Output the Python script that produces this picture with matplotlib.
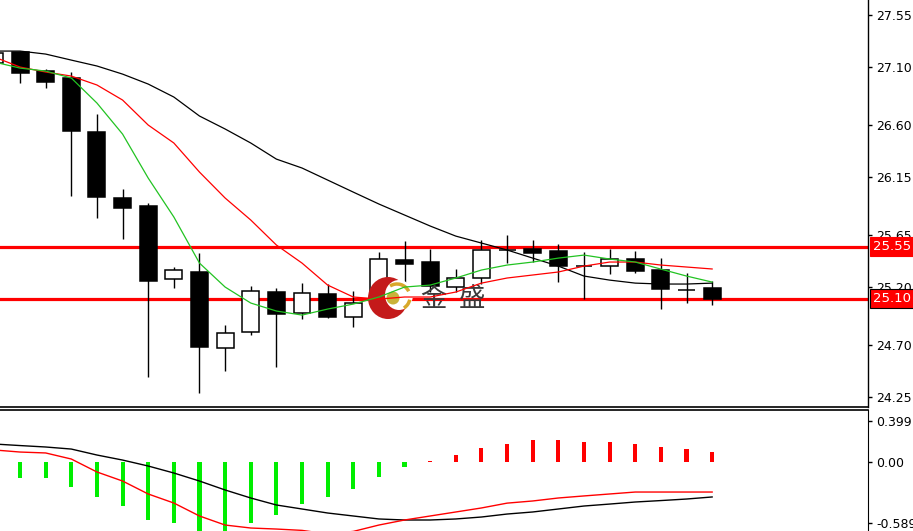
import numpy as np
import matplotlib
matplotlib.use("Agg")
import matplotlib.pyplot as plt
from matplotlib.patches import Rectangle, Ellipse, Arc

# Velas (OHLC)
opens = [27.135, 27.23, 27.066, 27.006, 26.54, 25.97, 25.90, 25.27, 25.33, 24.674,
         24.812, 25.158, 24.976, 25.14, 24.942, 25.149, 25.434, 25.417, 25.201, 25.279,
         25.521, 25.529, 25.512, 25.382, 25.382, 25.443, 25.348, 25.175, 25.192]
highs = [27.23, 27.239, 27.084, 27.058, 26.695, 26.047, 25.926, 25.374, 25.495, 24.873,
         25.21, 25.192, 25.236, 25.227, 25.166, 25.503, 25.598, 25.529, 25.357, 25.607,
         25.65, 25.607, 25.572, 25.503, 25.529, 25.512, 25.451, 25.322, 25.253]
lows = [27.12, 26.963, 26.92, 25.987, 25.797, 25.616, 24.424, 25.192, 24.286, 24.476,
        24.786, 24.51, 24.925, 24.93, 24.856, 25.089, 25.227, 25.158, 25.158, 25.227,
        25.408, 25.417, 25.244, 25.097, 25.313, 25.322, 25.011, 25.063, 25.045]
closes = [27.222, 27.049, 26.971, 26.548, 25.978, 25.883, 25.253, 25.348, 24.683, 24.804,
          25.166, 24.968, 25.149, 24.942, 25.063, 25.443, 25.40, 25.21, 25.279, 25.521,
          25.521, 25.494, 25.382, 25.382, 25.443, 25.339, 25.184, 25.175, 25.097]

# Medias moviles
ma_negra = [27.239, 27.239, 27.213, 27.161, 27.11, 27.04, 26.954, 26.842, 26.678, 26.566,
            26.445, 26.306, 26.229, 26.125, 26.021, 25.918, 25.823, 25.728, 25.641, 25.581,
            25.521, 25.451, 25.382, 25.296, 25.261, 25.235, 25.227, 25.227, 25.235]
ma_roja = [27.187, 27.101, 27.058, 27.023, 26.946, 26.816, 26.60, 26.445, 26.194, 25.97,
           25.78, 25.564, 25.408, 25.218, 25.115, 25.097, 25.115, 25.115, 25.158, 25.235,
           25.279, 25.305, 25.331, 25.382, 25.417, 25.417, 25.391, 25.374, 25.357]
ma_verde = [27.144, 27.092, 27.066, 27.006, 26.79, 26.522, 26.142, 25.806, 25.408, 25.201,
            25.063, 24.994, 24.959, 25.011, 25.054, 25.115, 25.201, 25.218, 25.279, 25.348,
            25.391, 25.417, 25.451, 25.477, 25.443, 25.417, 25.356, 25.296, 25.244]

# MACD
macd_hist = [np.nan, -0.156, -0.156, -0.24, -0.345, -0.428, -0.56, -0.59, -0.72, -0.73,
             -0.59, -0.52, -0.41, -0.345, -0.26, -0.146, -0.05, 0.01, 0.068, 0.136,
             0.175, 0.214, 0.214, 0.195, 0.195, 0.175, 0.146, 0.126, 0.097]
macd_main = [0.175, 0.16, 0.146, 0.126, 0.068, 0.019, -0.039, -0.107, -0.185, -0.272,
             -0.35, -0.418, -0.457, -0.496, -0.525, -0.554, -0.564, -0.564, -0.554, -0.535,
             -0.506, -0.486, -0.457, -0.428, -0.409, -0.389, -0.375, -0.36, -0.34]
macd_senal = [0.117, 0.097, 0.088, 0.029, -0.097, -0.185, -0.311, -0.399, -0.525, -0.613,
              -0.642, -0.652, -0.665, -0.70, -0.675, -0.613, -0.564, -0.525, -0.486, -0.447,
              -0.40, -0.379, -0.35, -0.33, -0.311, -0.292, -0.292, -0.292, -0.292]

niveles = [25.55, 25.10]
ticks_precio = [27.55, 27.10, 26.60, 26.15, 25.65, 25.20, 24.70, 24.25]
ticks_macd = [0.399, 0.0, -0.589]
etiquetas_macd = ["0.399", "0.00", "-0.589"]

x = np.arange(len(opens))

fig = plt.figure(figsize=(9.13, 5.31), dpi=100)
ax = fig.add_axes([0, 0.2335, 0.9507, 0.7665])
ax2 = fig.add_axes([0, 0, 0.9507, 0.2279])

# Lineas horizontales rojas
for nivel in niveles:
    ax.axhline(nivel, color="#ff0000", lw=2.3, zorder=1)

# Velas
ancho = 0.66
for i in range(len(x)):
    ax.vlines(x[i], lows[i], highs[i], color="black", lw=1.0, zorder=3)
    o, c = opens[i], closes[i]
    color = "black" if c < o else "white"
    ax.add_patch(Rectangle((x[i] - ancho / 2, min(o, c)), ancho, abs(c - o),
                           facecolor=color, edgecolor="black", lw=1.1, zorder=4))

# Medias moviles
ax.plot(x, ma_negra, color="black", lw=0.9, zorder=6)
ax.plot(x, ma_roja, color="#ff0000", lw=0.9, zorder=6)
ax.plot(x, ma_verde, color="#22c322", lw=0.9, zorder=6)

# Logo de fondo
def px(xp, yp):
    return xp / 913, 1 - yp / 531

ax.add_patch(Ellipse(px(388, 298), 40 / 913, 42 / 531, transform=fig.transFigure,
                     facecolor="#c41a1a", edgecolor="none", zorder=5))
ax.add_patch(Ellipse(px(399, 295), 28 / 913, 30 / 531, transform=fig.transFigure,
                     facecolor="white", edgecolor="none", zorder=5))
ax.add_patch(Arc(px(397, 297), 26 / 913, 26 / 531, theta1=40, theta2=110, transform=fig.transFigure,
                 color="#d8a82a", lw=2.5, zorder=5))
ax.add_patch(Arc(px(397, 297), 26 / 913, 26 / 531, theta1=-70, theta2=-20, transform=fig.transFigure,
                 color="#d8a82a", lw=2.5, zorder=5))
ax.add_patch(Ellipse(px(393, 298), 13 / 913, 13 / 531, transform=fig.transFigure,
                     facecolor="#c9b23a", edgecolor="none", zorder=5))
for ch, xc in [("金", 433), ("盛", 472)]:
    ax.text(*px(xc, 299), ch, transform=fig.transFigure, ha="center", va="center",
            fontsize=19, color="#3a3a3a", family=["Noto Sans CJK SC", "DejaVu Sans"], zorder=5)

ax.set_xlim(0.218, 34.08)
ax.set_ylim(24.165, 27.68)
ax.yaxis.tick_right()
ax.set_yticks(ticks_precio)
ax.set_yticklabels([f"{t:.2f}" for t in ticks_precio])
ax.set_xticks([])
for s in ["left", "top"]:
    ax.spines[s].set_visible(False)
ax.spines["right"].set_linewidth(1.0)
ax.spines["bottom"].set_linewidth(1.2)
ax.tick_params(axis="y", direction="out", length=3, width=1, pad=3, labelsize=9)

# Etiquetas de los niveles
for nivel in niveles:
    ax.text(1.006, nivel, f"{nivel:.2f}", transform=ax.get_yaxis_transform(),
            ha="left", va="center", fontsize=9.5, color="white", clip_on=False, zorder=10,
            bbox=dict(boxstyle="square,pad=0.22", facecolor="#ff0000",
                      edgecolor="#ff0000" if nivel > 25.3 else "black", lw=0.8))

# Panel MACD
ax2.bar(x, macd_hist, width=0.16,
        color=["#ff0000" if v > 0 else "#00ee00" for v in np.nan_to_num(macd_hist)], zorder=2)
ax2.plot(x, macd_main, color="black", lw=1.0, zorder=3)
ax2.plot(x, macd_senal, color="#ff0000", lw=1.0, zorder=3)
ax2.set_xlim(0.218, 34.08)
ax2.set_ylim(-0.671, 0.506)
ax2.yaxis.tick_right()
ax2.set_yticks(ticks_macd)
ax2.set_yticklabels(etiquetas_macd)
ax2.set_xticks([])
for s in ["left", "bottom"]:
    ax2.spines[s].set_visible(False)
ax2.spines["top"].set_linewidth(1.2)
ax2.tick_params(axis="y", direction="out", length=3, width=1, pad=3, labelsize=9)

fig.savefig("out.png", dpi=100)
